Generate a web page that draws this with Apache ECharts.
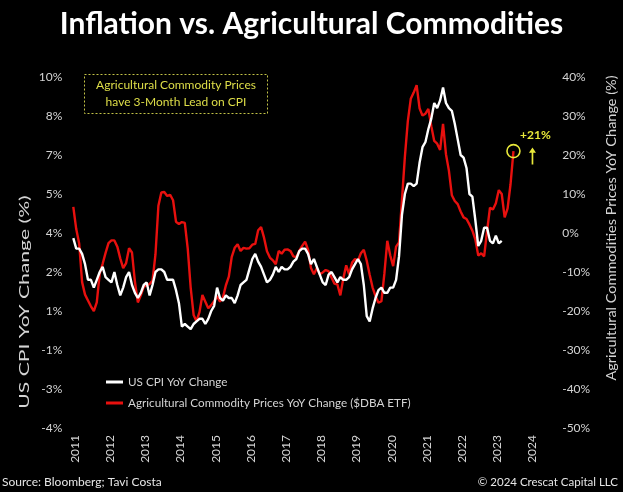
<!DOCTYPE html>
<html>
<head>
<meta charset="utf-8">
<script src="https://cdn.jsdelivr.net/npm/echarts@6/dist/echarts.min.js"></script>
<style>
  html, body { margin: 0; padding: 0; background: #000; }
  #chart { width: 623px; height: 492px; }
</style>
</head>
<body>
<div id="chart"></div>
<script>
// Year labels along the bottom axis
const yearTicks = [2011, 2012, 2013, 2014, 2015, 2016, 2017, 2018, 2019, 2020, 2021, 2022, 2023, 2024];

// Axis position (in years) of the first monthly reading; readings are one month apart
const firstPos = 2010.958;

// US CPI, year-over-year change (%), monthly
const cpiYoY = [
  3.3,
  2.9, 2.9, 2.7, 2.3, 1.7, 1.7, 1.4, 1.7, 2.0, 2.2, 1.8, 1.7,
  1.6, 2.0, 1.5, 1.1, 1.4, 1.8, 2.0, 1.5, 1.2, 1.0, 1.2, 1.5,
  1.6, 1.1, 1.5, 2.0, 2.1, 2.1, 2.0, 1.7, 1.7, 1.7, 1.3, 0.8,
  -0.1, 0.0, -0.1, -0.2, 0.0, 0.1, 0.2, 0.2, 0.0, 0.2, 0.5, 0.7,
  1.4, 1.0, 0.9, 1.1, 1.0, 1.0, 0.8, 1.1, 1.5, 1.6, 1.7, 2.1,
  2.5, 2.7, 2.4, 2.2, 1.9, 1.6, 1.7, 1.9, 2.2, 2.0, 2.2, 2.1,
  2.1, 2.2, 2.4, 2.5, 2.8, 2.9, 2.9, 2.7, 2.3, 2.5, 2.2, 1.9,
  1.6, 1.5, 1.9, 2.0, 1.8, 1.6, 1.8, 1.7, 1.7, 1.8, 2.1, 2.3,
  2.5, 2.3, 1.5, 0.3, 0.1, 0.6, 1.0, 1.3, 1.4, 1.2, 1.2, 1.4,
  1.4, 1.7, 2.6, 4.2, 5.0, 5.4, 5.4, 5.3, 5.4, 6.2, 6.8, 7.0,
  7.5, 7.9, 8.5, 8.3, 8.6, 9.1, 8.5, 8.3, 8.2, 7.7, 7.1, 6.5,
  6.4, 6.0, 5.0, 4.9, 4.0, 3.0, 3.2, 3.7, 3.7, 3.2, 3.1, 3.4,
  3.1, 3.2
];

// Agricultural commodity prices ($DBA ETF), year-over-year change (%), monthly, 3-month lead
const dbaYoY = [
  6.7, 1.0, -2.7, -12.6, -15.8, -17.3, -18.8, -20.0, -17.8, -10.4,
  -7.9, -5.1, -2.6, -1.9, -1.9, -3.5, -6.5, -9.0, -7.7, -3.9,
  -5.0, -12.5, -17.8, -16.0, -13.8, -13.4, -13.1, -12.2, -5.5, 7.0,
  10.4, 10.5, 9.5, 9.8, 8.4, 2.9, 2.3, 2.8, 2.6, -4.0,
  -14.0, -21.0, -22.6, -20.3, -15.9, -17.6, -19.3, -18.5, -17.5, -16.2,
  -17.6, -16.5, -13.4, -11.2, -6.1, -3.8, -2.9, -4.6, -3.8, -4.0,
  -3.9, -3.0, -2.8, 0.7, 1.5, -1.2, -4.7, -6.3, -7.0, -8.0,
  -4.6, -5.3, -4.3, -4.2, -4.6, -6.0, -6.2, -4.6, -3.3, -2.2,
  -4.3, -9.0, -10.6, -9.0, -10.6, -10.1, -9.5, -9.8, -11.4, -13.0,
  -13.2, -16.0, -11.7, -8.3, -10.6, -7.6, -6.7, -7.1, -5.2, -4.3,
  -7.1, -10.7, -14.0, -16.2, -17.9, -17.5, -10.5, -2.0, -5.7, -8.5,
  -3.5, -2.4, 8.5, 19.6, 28.7, 34.4, 36.0, 37.9, 32.0, 30.1,
  30.6, 31.8, 27.4, 23.6, 22.9, 21.3, 28.0, 20.2, 16.0, 9.7,
  8.2, 7.4, 5.5, 4.0, 3.6, 2.2, 0.6, -1.6, -5.8, -5.2,
  -6.0, 0.5, 6.5, 6.0, 7.6, 11.0, 10.0, 4.0, 6.3, 12.5, 21.0
];

const FONT = 'Lato, "Open Sans", sans-serif';
const LABEL = '#d4d4d4';
const YELLOW = '#e8e83a';

const toSeries = arr => arr.map((v, i) => [firstPos + i / 12, v]);
const cpiData = toSeries(cpiYoY);
const dbaData = toSeries(dbaYoY);
const dbaLast = dbaData[dbaData.length - 1];

// Round half away from zero so that e.g. -2.5 reads as -3%
const pctRound = v => {
  const r = Math.sign(v) * Math.round(Math.abs(v) + 1e-9);
  return (r === 0 ? 0 : r) + '%';
};

const chart = echarts.init(document.getElementById('chart'), null, { renderer: 'canvas' });

chart.setOption({
  backgroundColor: '#000',
  animation: false,
  textStyle: { fontFamily: FONT },
  grid: { left: 73.3, right: 65.8, top: 77, bottom: 64, containLabel: false },
  legend: {
    orient: 'vertical',
    left: 101,
    top: 370,
    icon: 'rect',
    itemWidth: 17,
    itemHeight: 3,
    itemGap: 7,
    textStyle: { color: LABEL, fontSize: 11.7, fontFamily: FONT, lineHeight: 14 },
    data: ['US CPI YoY Change', 'Agricultural Commodity Prices YoY Change ($DBA ETF)']
  },
  xAxis: {
    type: 'value',
    min: firstPos,
    max: 2024.7,
    axisLine: { show: false },
    axisTick: { show: false },
    splitLine: { show: false },
    axisLabel: {
      customValues: yearTicks,
      rotate: 90,
      margin: 7,
      color: LABEL,
      fontSize: 12,
      fontFamily: FONT,
      formatter: v => String(Math.round(v))
    }
  },
  yAxis: [
    {
      type: 'value',
      position: 'left',
      min: -4,
      max: 9.5,
      interval: 1.5,
      axisLine: { show: false },
      axisTick: { show: false },
      splitLine: { show: false },
      axisLabel: { color: LABEL, fontSize: 12, fontFamily: FONT, margin: 11, formatter: pctRound }
    },
    {
      type: 'value',
      position: 'right',
      min: -50,
      max: 40,
      interval: 10,
      axisLine: { show: false },
      axisTick: { show: false },
      splitLine: { show: false },
      axisLabel: { color: LABEL, fontSize: 12, fontFamily: FONT, margin: 5, formatter: '{value}%' }
    }
  ],
  series: [
    {
      name: 'US CPI YoY Change',
      type: 'line',
      yAxisIndex: 0,
      data: cpiData,
      showSymbol: false,
      color: '#ffffff',
      lineStyle: { color: '#ffffff', width: 2.4 },
      z: 3
    },
    {
      name: 'Agricultural Commodity Prices YoY Change ($DBA ETF)',
      type: 'line',
      yAxisIndex: 1,
      data: dbaData,
      showSymbol: false,
      color: '#e8100e',
      lineStyle: { color: '#e8100e', width: 2.4 },
      z: 2,
      markPoint: {
        silent: true,
        data: [
          {
            coord: dbaLast,
            value: dbaLast[1],
            symbol: 'circle',
            symbolSize: 13,
            itemStyle: { color: 'rgba(0,0,0,0)', borderColor: YELLOW, borderWidth: 1.6 },
            label: {
              show: true,
              position: 'inside',
              offset: [22, -16],
              color: YELLOW,
              fontWeight: 'bold',
              fontSize: 12,
              fontFamily: FONT,
              formatter: p => '+' + Math.round(p.value) + '%'
            }
          },
          {
            coord: dbaLast,
            symbol: 'path://M5,0 L10,6 L6.2,6 L6.2,20 L3.8,20 L3.8,6 L0,6 Z',
            symbolSize: [7, 17],
            symbolOffset: [19, 5],
            itemStyle: { color: YELLOW },
            label: { show: false }
          }
        ]
      }
    }
  ],
  graphic: [
    {
      type: 'text',
      left: 'center',
      top: 9,
      style: { text: 'Inflation vs. Agricultural Commodities', fill: '#ffffff', font: 'bold 30px ' + FONT }
    },
    {
      type: 'rect',
      shape: { x: 84.5, y: 74.5, width: 183, height: 39 },
      style: { fill: 'none', stroke: '#c2c247', lineWidth: 1, lineDash: [2, 2] }
    },
    {
      type: 'text',
      x: 176,
      y: 94,
      style: {
        text: 'Agricultural Commodity Prices\nhave 3-Month Lead on CPI',
        fill: '#dede48',
        font: '12px ' + FONT,
        align: 'center',
        verticalAlign: 'middle',
        lineHeight: 17
      }
    },
    {
      type: 'text',
      x: 25,
      y: 302,
      rotation: Math.PI / 2,
      scaleX: 1.69,
      style: {
        text: 'US CPI YoY Change (%)',
        fill: LABEL,
        font: '12.5px ' + FONT,
        align: 'center',
        verticalAlign: 'middle'
      }
    },
    {
      type: 'text',
      x: 612,
      y: 228,
      rotation: Math.PI / 2,
      scaleX: 1.16,
      style: {
        text: 'Agricultural Commodities Prices YoY Change (%)',
        fill: LABEL,
        font: '12.5px ' + FONT,
        align: 'center',
        verticalAlign: 'middle'
      }
    },
    {
      type: 'text',
      x: 2,
      y: 482,
      style: { text: 'Source: Bloomberg; Tavi Costa', fill: '#e6e6e6', font: '12px ' + FONT, verticalAlign: 'middle' }
    },
    {
      type: 'text',
      x: 618,
      y: 482,
      style: { text: '\u00A9 2024 Crescat Capital LLC', fill: '#e6e6e6', font: '11.5px ' + FONT, align: 'right', verticalAlign: 'middle' }
    }
  ]
});
</script>
</body>
</html>
